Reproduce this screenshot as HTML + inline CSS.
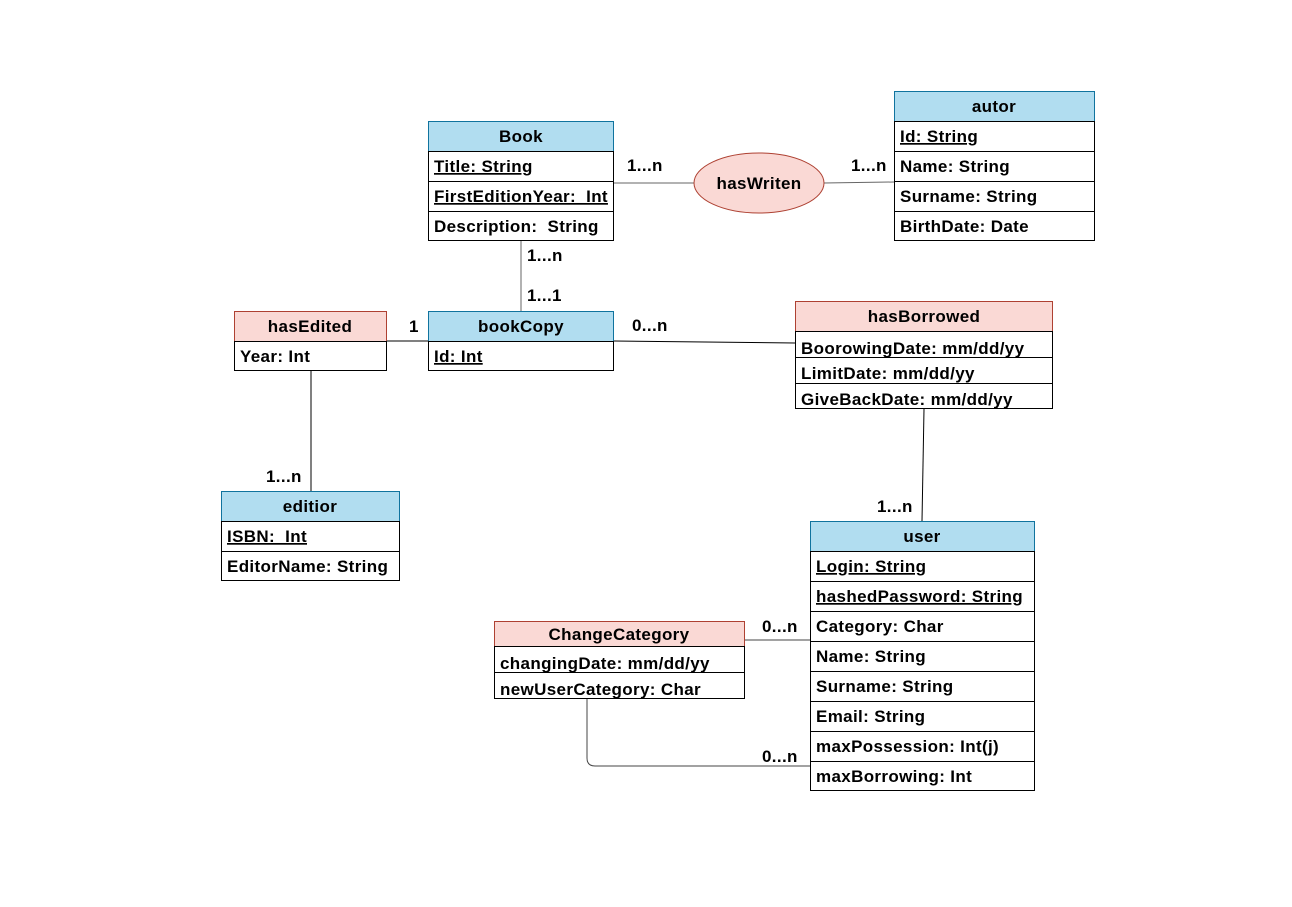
<!DOCTYPE html>
<html><head><meta charset="utf-8"><style>
html,body{margin:0;padding:0;background:#fff;}
svg text{font-family:"Liberation Sans",Arial,sans-serif;font-weight:bold;font-size:17px;letter-spacing:0.35px;fill:#000;white-space:pre;}
</style></head><body>
<svg width="1292" height="902" viewBox="0 0 1292 902" xmlns="http://www.w3.org/2000/svg">
<g stroke="#000" stroke-width="1" fill="none">
<line x1="614" y1="183" x2="694" y2="183" stroke="#666"/>
<line x1="824" y1="183" x2="894" y2="182" stroke="#666"/>
<line x1="521" y1="241" x2="521" y2="311" stroke="#666"/>
<line x1="387" y1="341" x2="428" y2="341"/>
<line x1="614" y1="341" x2="795" y2="343"/>
<line x1="311" y1="371" x2="311" y2="491"/>
<line x1="924" y1="409" x2="922" y2="521"/>
<line x1="745" y1="640" x2="810" y2="640" stroke="#444"/>
<path d="M587 698 V758 Q587 766 595 766 H810" stroke="#444"/>
</g>
<rect x="428.5" y="121.5" width="185" height="30" fill="#b1ddf0" stroke="#10739e"/>
<rect x="428.5" y="151.5" width="185" height="89" fill="#fff" stroke="#000"/>
<line x1="428" y1="181.5" x2="614" y2="181.5" stroke="#000"/><line x1="428" y1="211.5" x2="614" y2="211.5" stroke="#000"/>
<text x="521" y="142" text-anchor="middle">Book</text>
<text x="434" y="172" text-decoration="underline">Title: String</text>
<text x="434" y="202" text-decoration="underline">FirstEditionYear:  Int</text>
<text x="434" y="232">Description:  String</text>
<rect x="894.5" y="91.5" width="200" height="30" fill="#b1ddf0" stroke="#10739e"/>
<rect x="894.5" y="121.5" width="200" height="119" fill="#fff" stroke="#000"/>
<line x1="894" y1="151.5" x2="1094" y2="151.5" stroke="#000"/><line x1="894" y1="181.5" x2="1094" y2="181.5" stroke="#000"/><line x1="894" y1="211.5" x2="1094" y2="211.5" stroke="#000"/>
<text x="994" y="112" text-anchor="middle">autor</text>
<text x="900" y="142" text-decoration="underline">Id: String</text>
<text x="900" y="172">Name: String</text>
<text x="900" y="202">Surname: String</text>
<text x="900" y="232">BirthDate: Date</text>
<ellipse cx="759" cy="183" rx="65" ry="30" fill="#fad9d5" stroke="#ae4132"/>
<text x="759" y="189" text-anchor="middle">hasWriten</text>
<rect x="234.5" y="311.5" width="152" height="30" fill="#fad9d5" stroke="#ae4132"/>
<rect x="234.5" y="341.5" width="152" height="29" fill="#fff" stroke="#000"/>
<text x="310" y="332" text-anchor="middle">hasEdited</text>
<text x="240" y="362">Year: Int</text>
<rect x="428.5" y="311.5" width="185" height="30" fill="#b1ddf0" stroke="#10739e"/>
<rect x="428.5" y="341.5" width="185" height="29" fill="#fff" stroke="#000"/>
<text x="521" y="332" text-anchor="middle">bookCopy</text>
<text x="434" y="362" text-decoration="underline">Id: Int</text>
<rect x="795.5" y="301.5" width="257" height="30" fill="#fad9d5" stroke="#ae4132"/>
<rect x="795.5" y="331.5" width="257" height="77" fill="#fff" stroke="#000"/>
<line x1="795" y1="357.5" x2="1053" y2="357.5" stroke="#000"/><line x1="795" y1="383.5" x2="1053" y2="383.5" stroke="#000"/>
<text x="924" y="322" text-anchor="middle">hasBorrowed</text>
<text x="801" y="354">BoorowingDate: mm/dd/yy</text>
<text x="801" y="379">LimitDate: mm/dd/yy</text>
<text x="801" y="405">GiveBackDate: mm/dd/yy</text>
<rect x="221.5" y="491.5" width="178" height="30" fill="#b1ddf0" stroke="#10739e"/>
<rect x="221.5" y="521.5" width="178" height="59" fill="#fff" stroke="#000"/>
<line x1="221" y1="551.5" x2="400" y2="551.5" stroke="#000"/>
<text x="310" y="512" text-anchor="middle">editior</text>
<text x="227" y="542" text-decoration="underline">ISBN:  Int</text>
<text x="227" y="572">EditorName: String</text>
<rect x="810.5" y="521.5" width="224" height="30" fill="#b1ddf0" stroke="#10739e"/>
<rect x="810.5" y="551.5" width="224" height="239" fill="#fff" stroke="#000"/>
<g stroke="#000">
<line x1="810" y1="581.5" x2="1035" y2="581.5"/><line x1="810" y1="611.5" x2="1035" y2="611.5"/>
<line x1="810" y1="641.5" x2="1035" y2="641.5"/><line x1="810" y1="671.5" x2="1035" y2="671.5"/>
<line x1="810" y1="701.5" x2="1035" y2="701.5"/><line x1="810" y1="731.5" x2="1035" y2="731.5"/>
<line x1="810" y1="761.5" x2="1035" y2="761.5"/>
</g>
<text x="922" y="542" text-anchor="middle">user</text>
<text x="816" y="572" text-decoration="underline">Login: String</text>
<text x="816" y="602" text-decoration="underline">hashedPassword: String</text>
<text x="816" y="632">Category: Char</text>
<text x="816" y="662">Name: String</text>
<text x="816" y="692">Surname: String</text>
<text x="816" y="722">Email: String</text>
<text x="816" y="752">maxPossession: Int(j)</text>
<text x="816" y="782">maxBorrowing: Int</text>
<rect x="494.5" y="621.5" width="250" height="25" fill="#fad9d5" stroke="#ae4132"/>
<rect x="494.5" y="646.5" width="250" height="52" fill="#fff" stroke="#000"/>
<line x1="494" y1="672.5" x2="745" y2="672.5" stroke="#000"/>
<text x="619" y="640" text-anchor="middle">ChangeCategory</text>
<text x="500" y="669">changingDate: mm/dd/yy</text>
<text x="500" y="695">newUserCategory: Char</text>
<text x="627" y="171">1...n</text>
<text x="851" y="171">1...n</text>
<text x="527" y="261">1...n</text>
<text x="527" y="301">1...1</text>
<text x="409" y="332">1</text>
<text x="632" y="331">0...n</text>
<text x="266" y="482">1...n</text>
<text x="877" y="512">1...n</text>
<text x="762" y="632">0...n</text>
<text x="762" y="762">0...n</text>
</svg>
</body></html>
